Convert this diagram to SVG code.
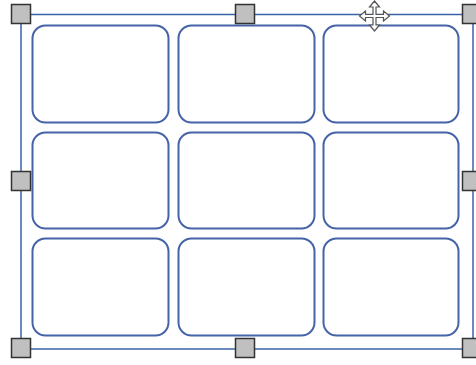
<svg xmlns="http://www.w3.org/2000/svg" width="476" height="365" viewBox="0 0 476 365">
<style>
.cell{fill:#fff;stroke:#4563a8;stroke-width:2}
.frame{fill:none;stroke:#3b64a6;stroke-width:1.5}
.handle{fill:#c0c0c0;stroke:#333;stroke-width:1.5}
.cursor{fill:#fff;stroke:#555;stroke-width:1.2;stroke-linejoin:miter}
</style>
<rect width="476" height="365" fill="#fff"/>
<g id="frame"><rect class="frame" x="21" y="14.5" width="452" height="334.5"/></g>
<g id="cell-1-1"><rect class="cell" x="32.5" y="25.5" width="136" height="97" rx="13"/></g>
<g id="cell-1-2"><rect class="cell" x="178.5" y="25.5" width="136" height="97" rx="13"/></g>
<g id="cell-1-3"><rect class="cell" x="323.5" y="25.5" width="135" height="97" rx="13"/></g>
<g id="cell-2-1"><rect class="cell" x="32.5" y="132.5" width="136" height="96" rx="13"/></g>
<g id="cell-2-2"><rect class="cell" x="178.5" y="132.5" width="136" height="96" rx="13"/></g>
<g id="cell-2-3"><rect class="cell" x="323.5" y="132.5" width="135" height="96" rx="13"/></g>
<g id="cell-3-1"><rect class="cell" x="32.5" y="238.5" width="136" height="97" rx="13"/></g>
<g id="cell-3-2"><rect class="cell" x="178.5" y="238.5" width="136" height="97" rx="13"/></g>
<g id="cell-3-3"><rect class="cell" x="323.5" y="238.5" width="135" height="97" rx="13"/></g>
<g id="handles">
<rect class="handle" x="11.5" y="4.5" width="19" height="19"/>
<rect class="handle" x="235.5" y="4.5" width="19" height="19"/>
<rect class="handle" x="462.5" y="4.5" width="19" height="19"/>
<rect class="handle" x="11.5" y="171.5" width="19" height="19"/>
<rect class="handle" x="462.5" y="171.5" width="19" height="19"/>
<rect class="handle" x="11.5" y="338.5" width="19" height="19"/>
<rect class="handle" x="235.5" y="338.5" width="19" height="19"/>
<rect class="handle" x="462.5" y="338.5" width="19" height="19"/>
</g>
<g id="connectors"></g>
<g id="cursor" transform="translate(374.5,16)">
<polygon class="cursor" points="0,-15 5,-9 1.5,-9 1.5,-1.5 9,-1.5 9,-5 15,0 9,5 9,1.5 1.5,1.5 1.5,9 5,9 0,15 -5,9 -1.5,9 -1.5,1.5 -9,1.5 -9,5 -15,0 -9,-5 -9,-1.5 -1.5,-1.5 -1.5,-9 -5,-9"/>
</g>
</svg>
